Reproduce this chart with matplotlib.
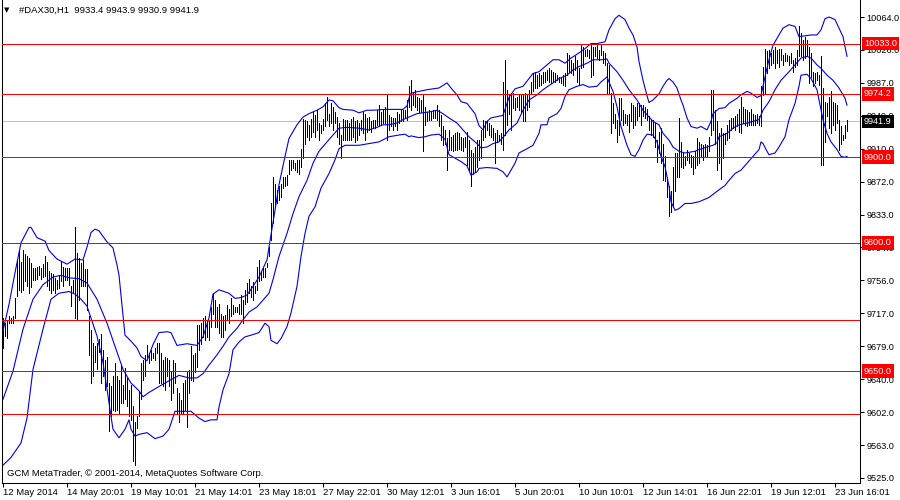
import numpy as np
import matplotlib
matplotlib.use("Agg")
import matplotlib.pyplot as plt
import matplotlib.transforms as mtrans

# MetaTrader style chart: DAX30 hourly bars with Bollinger bands
plt.rcParams['font.family'] = ['Liberation Sans', 'DejaVu Sans']

# bar lows / highs, one value per hourly bar
lows = [
    9677, 9691, 9689, 9706, 9706, 9706, 9712, 9738, 9745, 9742,
    9745, 9755, 9750, 9741, 9748, 9757, 9756, 9758, 9762, 9758,
    9760, 9761, 9749, 9745, 9741, 9745, 9741, 9746, 9747, 9755,
    9749, 9757, 9757, 9751, 9726, 9742, 9712, 9710, 9733, 9749,
    9749, 9749, 9722, 9669, 9636, 9644, 9661, 9652, 9672, 9636,
    9644, 9628, 9632, 9580, 9597, 9605, 9603, 9605, 9601, 9613,
    9613, 9617, 9609, 9597, 9593, 9545, 9540, 9583, 9597, 9617,
    9640, 9644, 9667, 9660, 9663, 9665, 9663, 9671, 9636, 9636,
    9632, 9628, 9644, 9632, 9616, 9624, 9636, 9601, 9591, 9601,
    9601, 9605, 9585, 9624, 9640, 9638, 9649, 9655, 9675, 9682,
    9690, 9686, 9690, 9686, 9702, 9717, 9702, 9702, 9694, 9690,
    9690, 9698, 9710, 9706, 9714, 9717, 9719, 9719, 9717, 9717,
    9706, 9729, 9731, 9741, 9737, 9733, 9741, 9745, 9755, 9757,
    9760, 9760, 9772, 9784, 9803, 9823, 9842, 9846, 9850, 9854,
    9864, 9866, 9868, 9881, 9885, 9887, 9885, 9883, 9881, 9889,
    9899, 9916, 9924, 9920, 9924, 9930, 9924, 9932, 9920, 9928,
    9932, 9936, 9943, 9936, 9940, 9932, 9940, 9924, 9916, 9899,
    9920, 9920, 9920, 9920, 9920, 9924, 9918, 9920, 9926, 9932,
    9928, 9920, 9930, 9932, 9930, 9934, 9934, 9938, 9938, 9938,
    9940, 9940, 9920, 9932, 9936, 9932, 9936, 9932, 9940, 9942,
    9942, 9946, 9944, 9959, 9955, 9961, 9959, 9955, 9953, 9953,
    9907, 9938, 9942, 9944, 9944, 9946, 9946, 9944, 9936, 9920,
    9914, 9916, 9885, 9908, 9908, 9907, 9908, 9908, 9910, 9908,
    9907, 9912, 9891, 9885, 9866, 9881, 9883, 9889, 9897, 9899,
    9920, 9924, 9932, 9926, 9924, 9920, 9893, 9918, 9920, 9916,
    9908, 9926, 9938, 9951, 9932, 9958, 9955, 9959, 9955, 9953,
    9942, 9942, 9955, 9959, 9975, 9977, 9981, 9981, 9983, 9985,
    9987, 9988, 9990, 9988, 9987, 9988, 9988, 9990, 9988, 9987,
    9985, 9983, 9996, 10000, 9998, 9996, 10002, 9988, 9985, 10004,
    10006, 10018, 10018, 10016, 9994, 9996, 10018, 10016, 10014, 10020,
    10010, 10008, 9975, 9975, 9928, 9940, 9934, 9918, 9926, 9944,
    9938, 9940, 9938, 9930, 9942, 9934, 9938, 9944, 9948, 9938,
    9948, 9946, 9944, 9932, 9926, 9924, 9912, 9895, 9905, 9893,
    9874, 9872, 9854, 9831, 9836, 9842, 9860, 9877, 9877, 9889,
    9887, 9891, 9897, 9893, 9889, 9881, 9887, 9891, 9893, 9901,
    9897, 9901, 9901, 9907, 9926, 9932, 9916, 9885, 9893, 9875,
    9899, 9916, 9920, 9922, 9932, 9934, 9932, 9936, 9930, 9928,
    9940, 9938, 9936, 9938, 9938, 9938, 9938, 9940, 9938, 9936,
    9973, 9975, 9998, 10004, 10008, 10010, 10004, 10010, 10006, 10014,
    10008, 10012, 10012, 10008, 10010, 10000, 10006, 10008, 10018, 10018,
    10014, 10016, 10018, 9987, 9994, 9983, 9987, 9990, 9985, 9891,
    9891, 9918, 9948, 9934, 9928, 9938, 9932, 9940, 9908, 9916,
    9920, 9922, 9930.9,
]
highs = [
    9712, 9706, 9710, 9714, 9712, 9714, 9736, 9779, 9792, 9778,
    9792, 9787, 9784, 9782, 9776, 9770, 9770, 9772, 9773, 9770,
    9775, 9784, 9778, 9767, 9765, 9763, 9759, 9757, 9761, 9778,
    9772, 9770, 9771, 9770, 9749, 9757, 9819, 9788, 9782, 9776,
    9780, 9769, 9769, 9714, 9698, 9683, 9679, 9683, 9687, 9693,
    9675, 9663, 9667, 9636, 9632, 9644, 9660, 9644, 9640, 9656,
    9634, 9654, 9642, 9628, 9634, 9609, 9590, 9597, 9625, 9660,
    9663, 9669, 9681, 9671, 9675, 9671, 9677, 9683, 9683, 9671,
    9663, 9667, 9665, 9663, 9649, 9663, 9659, 9630, 9624, 9616,
    9636, 9640, 9649, 9651, 9679, 9669, 9671, 9704, 9704, 9706,
    9712, 9714, 9708, 9708, 9725, 9741, 9733, 9725, 9729, 9717,
    9714, 9716, 9727, 9723, 9735, 9727, 9725, 9725, 9729, 9739,
    9733, 9745, 9753, 9758, 9749, 9754, 9749, 9772, 9780, 9766,
    9772, 9770, 9776, 9795, 9846, 9877, 9869, 9862, 9866, 9869,
    9877, 9877, 9879, 9897, 9897, 9897, 9893, 9897, 9897, 9910,
    9945, 9944, 9942, 9938, 9945, 9953, 9949, 9955, 9940, 9938,
    9945, 9963, 9971, 9951, 9963, 9959, 9953, 9947, 9940, 9926,
    9945, 9944, 9944, 9940, 9945, 9947, 9942, 9944, 9940, 9944,
    9953, 9951, 9946, 9947, 9942, 9944, 9944, 9955, 9961, 9953,
    9957, 9959, 9973, 9949, 9947, 9946, 9946, 9953, 9951, 9957,
    9955, 9955, 9967, 9983, 9990, 9975, 9979, 9971, 9969, 9967,
    9973, 9959, 9953, 9955, 9953, 9955, 9955, 9961, 9955, 9949,
    9936, 9932, 9922, 9932, 9924, 9926, 9928, 9930, 9928, 9924,
    9922, 9924, 9930, 9920, 9909, 9905, 9912, 9920, 9920, 9932,
    9944, 9942, 9942, 9940, 9938, 9934, 9928, 9932, 9926, 9928,
    9988, 10014, 9979, 9973, 9975, 9975, 9969, 9971, 9973, 9973,
    9973, 9975, 9973, 9979, 9988, 9998, 10000, 9996, 9998, 9996,
    10000, 10000, 10002, 10004, 10002, 10000, 9998, 9996, 9994, 9994,
    9996, 9998, 10022, 10020, 10014, 10010, 10018, 10014, 10004, 10033,
    10029, 10025, 10027, 10025, 10031, 10029, 10029, 10031, 10025, 10031,
    10024, 10022, 10010, 10008, 9975, 9963, 9951, 9944, 9969, 9969,
    9955, 9951, 9949, 9951, 9963, 9961, 9959, 9963, 9963, 9961,
    9961, 9959, 9957, 9948, 9944, 9944, 9940, 9920, 9930, 9934,
    9916, 9901, 9877, 9866, 9860, 9889, 9905, 9905, 9946, 9918,
    9905, 9901, 9909, 9905, 9903, 9901, 9907, 9922, 9918, 9916,
    9914, 9916, 9914, 9924, 9979, 9979, 9955, 9942, 9928, 9934,
    9928, 9928, 9938, 9944, 9946, 9946, 9948, 9951, 9957, 9971,
    9959, 9957, 9955, 9953, 9957, 9951, 9949, 9951, 9948, 9983,
    10006, 10027, 10024, 10025, 10022, 10025, 10029, 10025, 10027, 10027,
    10020, 10022, 10020, 10018, 10022, 10014, 10016, 10025, 10053, 10045,
    10037, 10041, 10037, 10029, 10022, 10000, 9998, 10000, 9996, 10018,
    9981, 9965, 9963, 9971, 9977, 9965, 9963, 9961, 9944, 9936,
    9926, 9938, 9943.9,
]

# Bollinger bands, sampled at bar numbers
upper_bar = [0, 3, 6, 9, 13, 14, 17, 21, 23, 27, 32, 36, 40, 42, 44, 46, 48, 52, 55, 57,
             58, 60, 61, 64, 67, 69, 72, 75, 78, 82, 84, 87, 92, 97, 100, 103, 105, 108, 113, 116,
             119, 122, 125, 128, 132, 133, 136, 138, 141, 143, 147, 150, 153, 157, 160, 163, 165, 168, 170, 175,
             178, 182, 185, 191, 195, 200, 202, 203, 204, 208, 212, 215, 218, 222, 224, 227, 229, 232, 234, 236,
             238, 240, 242, 244, 248, 250, 252, 253, 256, 260, 265, 268, 272, 275, 278, 281, 284, 288, 291, 294,
             297, 301, 303, 306, 308, 311, 313, 315, 317, 318, 320, 322, 323, 325, 328, 330, 332, 333, 335, 337,
             339, 340, 342, 344, 347, 349, 352, 354, 355, 358, 361, 363, 367, 369, 372, 374, 377, 379, 381, 383,
             385, 388, 390, 393, 396, 398, 401, 404, 407, 409, 411, 413, 416, 418, 420, 422]
upper_val = [9697, 9728, 9765, 9800, 9818, 9818, 9806, 9802, 9791, 9781, 9775, 9781, 9780, 9795, 9812, 9816, 9814, 9801, 9794, 9774,
             9762, 9715, 9692, 9685, 9677, 9667, 9662, 9681, 9695, 9696, 9695, 9680, 9682, 9680, 9690, 9712, 9740, 9745, 9741, 9735,
             9736, 9739, 9749, 9760, 9780, 9795, 9838, 9868, 9901, 9922, 9938, 9947, 9951, 9955, 9959, 9967, 9966, 9958, 9956, 9955,
             9952, 9955, 9955, 9956, 9956, 9956, 9960, 9969, 9975, 9977, 9979, 9980, 9981, 9987, 9981, 9973, 9965, 9963, 9957, 9951,
             9937, 9932, 9942, 9946, 9948, 9949, 9963, 9970, 9980, 9983, 9998, 10000, 10008, 10014, 10014, 10010, 10016, 10022, 10027, 10033,
             10033, 10035, 10049, 10062, 10066, 10061, 10051, 10043, 10029, 10012, 9990, 9972, 9964, 9967, 9974, 9983, 9990, 9992, 9988, 9981,
             9967, 9961, 9946, 9936, 9934, 9936, 9932, 9942, 9951, 9957, 9958, 9963, 9969, 9973, 9977, 9975, 9970, 9972, 9994, 10014,
             10031, 10043, 10051, 10055, 10053, 10041, 10042, 10043, 10043, 10049, 10062, 10064, 10061, 10051, 10041, 10018]

mid_bar = [0, 5, 10, 15, 20, 25, 29, 33, 38, 42, 47, 52, 56, 60, 64, 68, 70, 73, 78, 84,
           88, 93, 97, 100, 103, 107, 110, 113, 117, 120, 123, 127, 130, 133, 135, 138, 142, 145, 148, 152,
           155, 158, 162, 165, 168, 172, 178, 183, 187, 190, 193, 197, 200, 203, 207, 210, 213, 217, 220, 223,
           227, 230, 233, 237, 239, 242, 245, 248, 251, 253, 257, 260, 263, 267, 270, 275, 278, 282, 285, 288,
           292, 295, 299, 302, 303, 307, 310, 313, 317, 320, 323, 325, 328, 330, 333, 335, 338, 341, 346, 348,
           352, 355, 357, 358, 362, 365, 368, 372, 375, 378, 380, 383, 386, 389, 393, 396, 399, 402, 404, 407,
           409, 412, 415, 418, 421, 422]
mid_val = [9617, 9650, 9699, 9734, 9751, 9760, 9762, 9759, 9758, 9753, 9734, 9706, 9679, 9652, 9636, 9627, 9620, 9625, 9632, 9640,
           9645, 9642, 9642, 9647, 9657, 9669, 9679, 9690, 9700, 9710, 9719, 9725, 9733, 9741, 9757, 9784, 9811, 9834, 9854, 9873,
           9893, 9907, 9918, 9926, 9934, 9935, 9934, 9932, 9935, 9938, 9938, 9940, 9944, 9947, 9951, 9952, 9953, 9955, 9951, 9946,
           9940, 9932, 9924, 9916, 9911, 9912, 9916, 9918, 9926, 9932, 9940, 9955, 9967, 9973, 9979, 9987, 9992, 9996, 10002, 10006,
           10010, 10014, 10014, 10015, 10010, 10000, 9990, 9979, 9967, 9955, 9947, 9942, 9938, 9928, 9920, 9912, 9907, 9905, 9907, 9909,
           9912, 9914, 9917, 9924, 9928, 9934, 9938, 9940, 9942, 9944, 9955, 9965, 9979, 9990, 10000, 10008, 10016, 10018, 10016, 10008,
           10004, 9996, 9990, 9981, 9969, 9961]

lower_bar = [0, 4, 9, 12, 15, 20, 24, 28, 33, 36, 39, 42, 47, 50, 52, 54, 55, 58, 61, 63,
             64, 66, 68, 72, 76, 80, 83, 86, 90, 94, 98, 101, 104, 107, 108, 110, 113, 115, 118, 121,
             124, 128, 131, 133, 134, 137, 139, 142, 144, 147, 149, 151, 153, 156, 159, 163, 166, 168, 171, 178,
             183, 188, 193, 198, 201, 203, 204, 208, 211, 214, 218, 221, 223, 226, 229, 232, 234, 237, 238, 242,
             247, 250, 252, 254, 256, 258, 262, 265, 268, 269, 272, 273, 277, 279, 281, 283, 287, 290, 293, 297,
             299, 302, 303, 305, 307, 309, 312, 314, 316, 318, 320, 322, 325, 327, 329, 331, 333, 334, 336, 338,
             341, 344, 348, 353, 358, 361, 363, 366, 369, 372, 375, 378, 379, 380, 382, 383, 386, 388, 391, 393,
             396, 398, 399, 402, 404, 407, 408, 410, 412, 414, 417, 419, 421, 422]
lower_val = [9540, 9549, 9566, 9595, 9652, 9699, 9734, 9741, 9743, 9740, 9734, 9726, 9691, 9660, 9629, 9597, 9582, 9572, 9582, 9593,
             9582, 9574, 9576, 9578, 9571, 9574, 9582, 9603, 9603, 9603, 9595, 9591, 9593, 9593, 9608, 9628, 9647, 9675, 9684, 9690,
             9692, 9695, 9706, 9702, 9686, 9682, 9688, 9702, 9718, 9749, 9784, 9811, 9831, 9842, 9864, 9881, 9897, 9910, 9914, 9914,
             9916, 9918, 9924, 9926, 9927, 9924, 9925, 9923, 9924, 9926, 9927, 9921, 9903, 9899, 9895, 9890, 9879, 9883, 9887, 9888,
             9887, 9883, 9877, 9885, 9893, 9905, 9910, 9914, 9928, 9938, 9938, 9946, 9951, 9957, 9971, 9979, 9983, 9985, 9982, 9983,
             9988, 9994, 9988, 9977, 9959, 9936, 9914, 9903, 9901, 9909, 9920, 9927, 9926, 9918, 9901, 9889, 9866, 9848, 9838, 9840,
             9846, 9846, 9848, 9853, 9862, 9867, 9873, 9881, 9885, 9893, 9901, 9909, 9918, 9916, 9907, 9903, 9905, 9912, 9924, 9944,
             9963, 9983, 9996, 9997, 9992, 9979, 9967, 9944, 9928, 9918, 9909, 9901, 9900, 9901]

# horizontal lines drawn on the chart
tagged_levels = [10033.0, 9974.2, 9900.0, 9800.0, 9650.0]
plain_levels = [9710.0, 9600.0]
bid = 9941.9

# axis labels
ytick_vals = [9525.0, 9563.5, 9602.0, 9640.5, 9679.0, 9717.5, 9756.0, 9794.5,
              9833.0, 9871.5, 9910.0, 9948.5, 9987.0, 10025.5, 10064.0]
ytick_labels = ["9525.0", "9563.0", "9602.0", "9640.0", "9679.0", "9717.0", "9756.0", "9794.0",
                "9833.0", "9872.0", "9910.0", "9949.0", "9987.0", "10026.0", "10064.0"]
xtick_bars = [0, 32, 64, 96, 128, 160, 192, 224, 256, 288, 320, 352, 384, 416]
xtick_labels = ["12 May 2014", "14 May 20:01", "19 May 10:01", "21 May 14:01", "23 May 18:01",
                "27 May 22:01", "30 May 12:01", "3 Jun 16:01", "5 Jun 20:01", "10 Jun 10:01",
                "12 Jun 14:01", "16 Jun 22:01", "19 Jun 12:01", "23 Jun 16:01"]

fig = plt.figure(figsize=(9, 5), dpi=100)
ax = fig.add_axes([2 / 900, 17 / 500, 858 / 900, 483 / 500])
ax.set_xlim(-0.5, 428.5)
ax.set_ylim(9519.15, 10083.88)

n = min(len(lows), len(highs))
bars = np.arange(n)
# thin 1px bars, no antialiasing (terminal look)
ax.vlines(bars, lows[:n], highs[:n], colors='black', linewidth=0.6, antialiased=False, zorder=2)

band_col = '#0000e0'
ax.plot(upper_bar, upper_val, color=band_col, lw=0.8, zorder=3)
ax.plot(mid_bar, mid_val, color=band_col, lw=0.8, zorder=3)
ax.plot(lower_bar, lower_val, color=band_col, lw=0.8, zorder=3)

ax.axhline(bid, color='#c0c0c0', lw=0.6, antialiased=False, zorder=1)
for lv in tagged_levels + plain_levels:
    ax.axhline(lv, color='red', lw=0.6, antialiased=False, zorder=4)

# frame like the terminal window
ax.spines['top'].set_visible(False)
for s in ['left', 'right', 'bottom']:
    ax.spines[s].set_linewidth(0.75)
    ax.spines[s].set_color('black')

ax.yaxis.tick_right()
ax.set_yticks(ytick_vals)
ax.set_yticklabels(ytick_labels)
ax.set_xticks(xtick_bars)
ax.set_xticklabels(xtick_labels, ha='left')
ax.tick_params(axis='y', direction='out', length=3, width=0.75, labelsize=6.6, pad=1.5)
ax.tick_params(axis='x', direction='out', length=3, width=0.75, labelsize=6.8, pad=0.8)

# price tags on the scale (they sit over the tick labels, as in the terminal)
tag_tr = mtrans.blended_transform_factory(ax.transAxes, ax.transData)
for lv in tagged_levels:
    ax.text(1 + 4 / 858, lv, f"{lv:.1f}", transform=tag_tr, ha='left', va='center',
            fontsize=6.6, color='white', clip_on=False, zorder=6,
            bbox=dict(boxstyle='square,pad=0.25', fc='red', ec='none'))
ax.text(1 + 4 / 858, bid, f"{bid:.1f}", transform=tag_tr, ha='left', va='center',
        fontsize=6.6, color='white', clip_on=False, zorder=6,
        bbox=dict(boxstyle='square,pad=0.25', fc='black', ec='none'))

fig.text(4 / 900, 1 - 10 / 500, "▼", fontsize=5, family='DejaVu Sans', va='center')
fig.text(19 / 900, 1 - 10 / 500, "#DAX30,H1  9933.4 9943.9 9930.9 9941.9", fontsize=6.8, va='center')
fig.text(7 / 900, 1 - 474 / 500, "GCM MetaTrader, © 2001-2014, MetaQuotes Software Corp.",
         fontsize=6.8, va='center')

fig.savefig("out.png", dpi=100)
